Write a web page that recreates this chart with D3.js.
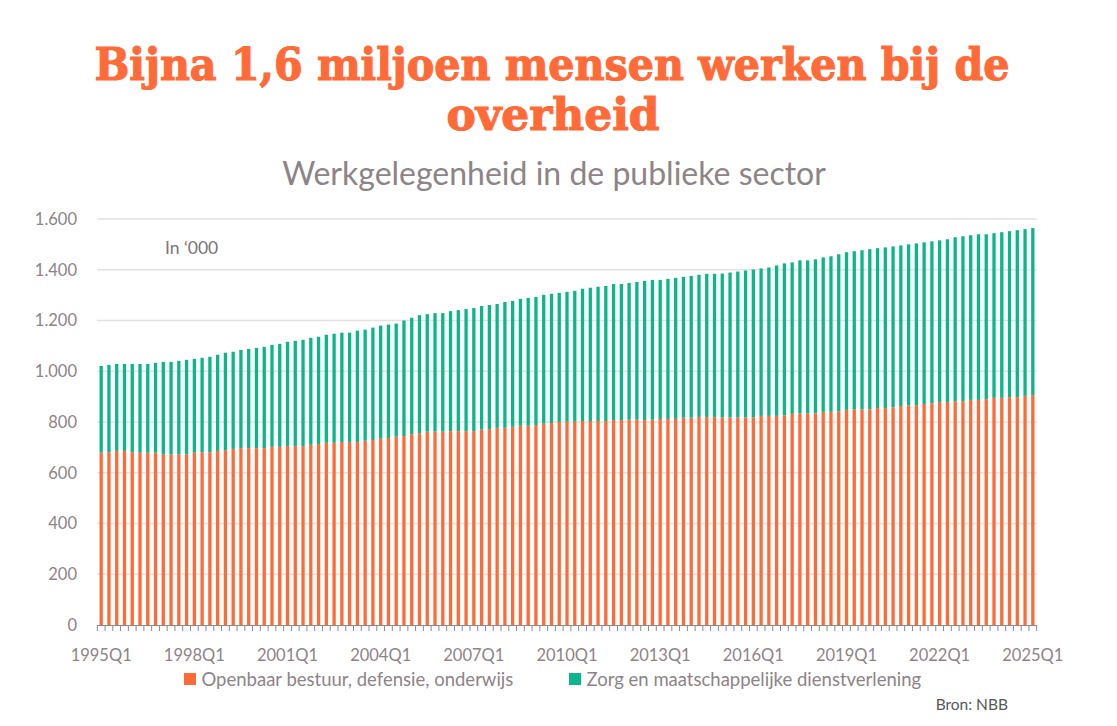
<!DOCTYPE html>
<html lang="nl">

<head>
    <meta charset="utf-8">
    <title>Werkgelegenheid in de publieke sector</title>
    <script src="https://d3js.org/d3.v7.min.js"></script>
    <style>
        body {
            margin: 0;
            padding: 0;
            overflow: hidden;
            background: #ffffff;
        }
    </style>
</head>

<body>

    <div id="container">
        <svg id="chart"></svg>
    </div>

    <script>
        // categories: every quarter from 1995Q1 up to 2025Q1
        const firstYear = 1995;
        const lastYear = 2025;
        const quarters = [];
        for (let y = firstYear; y <= lastYear; y++) {
            for (let q = 1; q <= 4; q++) {
                if (y === lastYear && q > 1) break;
                quarters.push(y + "Q" + q);
            }
        }

        const seriesNames = ["Openbaar bestuur, defensie, onderwijs", "Zorg en maatschappelijke dienstverlening"];

        // Openbaar bestuur, defensie, onderwijs (x 1000)
        const openbaar = [
            679, 681, 686, 686, 681, 679, 679, 679, 673, 673, 673, 673, 679, 681, 681, 686, 689, 694, 697, 697,
            697, 697, 702, 702, 705, 705, 705, 710, 713, 718, 718, 721, 721, 721, 726, 729, 734, 737, 742, 745,
            752, 756, 762, 762, 762, 764, 764, 764, 764, 770, 772, 777, 777, 781, 785, 785, 788, 793, 796, 800,
            801, 801, 804, 804, 804, 804, 808, 808, 809, 809, 808, 809, 812, 812, 812, 817, 817, 820, 820, 820,
            818, 818, 818, 818, 818, 824, 824, 824, 826, 832, 834, 834, 834, 840, 840, 842, 848, 850, 850, 850,
            855, 855, 858, 863, 866, 866, 871, 874, 879, 879, 882, 882, 887, 887, 890, 895, 895, 898, 898, 903,
            906
        ];

        // Zorg en maatschappelijke dienstverlening (x 1000)
        const zorg = [
            342, 344, 343, 343, 348, 350, 350, 354, 364, 364, 368, 372, 370, 372, 376, 379, 384, 383, 387, 391,
            395, 399, 402, 406, 411, 415, 419, 422, 423, 426, 430, 431, 431, 439, 438, 443, 446, 447, 446, 455,
            459, 465, 463, 467, 467, 473, 477, 481, 485, 487, 489, 488, 496, 496, 500, 504, 505, 508, 509, 509,
            512, 516, 521, 525, 529, 532, 536, 536, 539, 543, 548, 551, 548, 552, 556, 555, 559, 560, 564, 564,
            567, 571, 575, 579, 583, 581, 585, 593, 599, 597, 603, 603, 607, 609, 613, 619, 621, 623, 627, 631,
            630, 633, 634, 633, 634, 638, 637, 638, 637, 641, 646, 650, 649, 653, 650, 649, 653, 654, 658, 657,
            658
        ];

        const yTicks = [0, 200, 400, 600, 800, 1000, 1200, 1400, 1600];
        const xLabelQuarters = ["1995Q1", "1998Q1", "2001Q1", "2004Q1", "2007Q1", "2010Q1", "2013Q1", "2016Q1", "2019Q1", "2022Q1", "2025Q1"];

        const colors = ["#FF6B38", "#0BB68A"];
        const textGray = "#8c8486";
        const font = "Lato, 'Open Sans', sans-serif";

        const width = 1117;
        const height = 726;
        const margin = { left: 97.3, right: 1117 - 1036.7, top: 219, bottom: 726 - 625 };

        const svg = d3.select("#chart")
            .attr("width", width)
            .attr("height", height)
            .attr("viewBox", [0, 0, width, height]);

        // titles (stroke makes the serif a bit heavier)
        const title = [
            { text: "Bijna 1,6 miljoen mensen werken bij de", x: 552, y: 80, w: 915 },
            { text: "overheid", x: 553, y: 130, w: 213 }
        ];
        svg.append("g")
            .selectAll("text")
            .data(title)
            .join("text")
            .attr("x", d => d.x)
            .attr("y", d => d.y)
            .attr("text-anchor", "middle")
            .attr("font-family", "'DejaVu Serif', serif")
            .attr("font-weight", "bold")
            .attr("font-size", 45)
            .attr("fill", colors[0])
            .attr("stroke", colors[0])
            .attr("stroke-width", 1.2)
            .attr("textLength", d => d.w)
            .attr("lengthAdjust", "spacingAndGlyphs")
            .text(d => d.text);

        svg.append("text")
            .attr("x", 554)
            .attr("y", 185)
            .attr("text-anchor", "middle")
            .attr("font-family", font)
            .attr("font-size", 32)
            .attr("fill", textGray)
            .text("Werkgelegenheid in de publieke sector");

        // scales
        const x = d3.scaleBand()
            .domain(quarters)
            .range([margin.left, width - margin.right])
            .paddingInner(0.575)
            .paddingOuter(0.2875);

        const y = d3.scaleLinear()
            .domain([0, 1600])
            .range([height - margin.bottom, margin.top]);

        // gridlines
        svg.append("g")
            .selectAll("line")
            .data(yTicks.filter(d => d > 0))
            .join("line")
            .attr("x1", margin.left)
            .attr("x2", width - margin.right)
            .attr("y1", d => y(d))
            .attr("y2", d => y(d))
            .attr("stroke", "#e2e2e2")
            .attr("stroke-width", 1.3);

        // y labels, Dutch thousands separator
        const fmt = d3.formatLocale({ decimal: ",", thousands: ".", grouping: [3], currency: ["€", ""] }).format(",d");
        svg.append("g")
            .selectAll("text")
            .data(yTicks)
            .join("text")
            .attr("x", 77)
            .attr("y", d => y(d))
            .attr("dy", "0.35em")
            .attr("text-anchor", "end")
            .attr("font-family", font)
            .attr("font-size", 16.5)
            .attr("fill", textGray)
            .text(d => fmt(d));

        // stacked bars
        const table = quarters.map((q, i) => ({ q: q, a: openbaar[i], b: zorg[i] }));
        const stacked = d3.stack().keys(["a", "b"])(table);

        svg.append("g")
            .selectAll("g")
            .data(stacked)
            .join("g")
            .attr("fill", (d, i) => colors[i])
            .selectAll("rect")
            .data(d => d)
            .join("rect")
            .attr("x", d => x(d.data.q))
            .attr("width", x.bandwidth())
            .attr("y", d => y(d[1]))
            .attr("height", d => y(d[0]) - y(d[1]));

        // x axis line and ticks between quarters
        const axisY = y(0);
        const bounds = d3.range(quarters.length + 1).map(i => margin.left + i * x.step());
        const axis = svg.append("g").attr("stroke", "#8a8a8a").attr("stroke-width", 1);
        axis.append("line")
            .attr("x1", margin.left)
            .attr("x2", width - margin.right)
            .attr("y1", axisY + 0.5)
            .attr("y2", axisY + 0.5);
        axis.selectAll("line.tick")
            .data(bounds)
            .join("line")
            .attr("class", "tick")
            .attr("x1", d => d)
            .attr("x2", d => d)
            .attr("y1", axisY)
            .attr("y2", axisY + 6);

        svg.append("g")
            .selectAll("text")
            .data(xLabelQuarters)
            .join("text")
            .attr("x", d => x(d) + x.bandwidth() / 2)
            .attr("y", 661)
            .attr("text-anchor", "middle")
            .attr("font-family", font)
            .attr("font-size", 16.5)
            .attr("fill", textGray)
            .text(d => d);

        // unit note
        svg.append("text")
            .attr("x", 165)
            .attr("y", 254)
            .attr("font-family", font)
            .attr("font-size", 17.5)
            .attr("fill", "#7b7576")
            .text("In ‘000");

        // legend
        const legendX = [184, 569];
        const legend = svg.append("g")
            .selectAll("g")
            .data(seriesNames)
            .join("g")
            .attr("transform", (d, i) => `translate(${legendX[i]},673)`);

        legend.append("rect")
            .attr("width", 12)
            .attr("height", 12)
            .attr("fill", (d, i) => colors[i]);

        legend.append("text")
            .attr("x", 17.5)
            .attr("y", 12.5)
            .attr("font-family", font)
            .attr("font-size", 18.5)
            .attr("fill", textGray)
            .text(d => d);

        // source
        svg.append("text")
            .attr("x", 1008)
            .attr("y", 710)
            .attr("text-anchor", "end")
            .attr("font-family", font)
            .attr("font-size", 15.5)
            .attr("fill", "#585858")
            .text("Bron: NBB");
    </script>
</body>

</html>
